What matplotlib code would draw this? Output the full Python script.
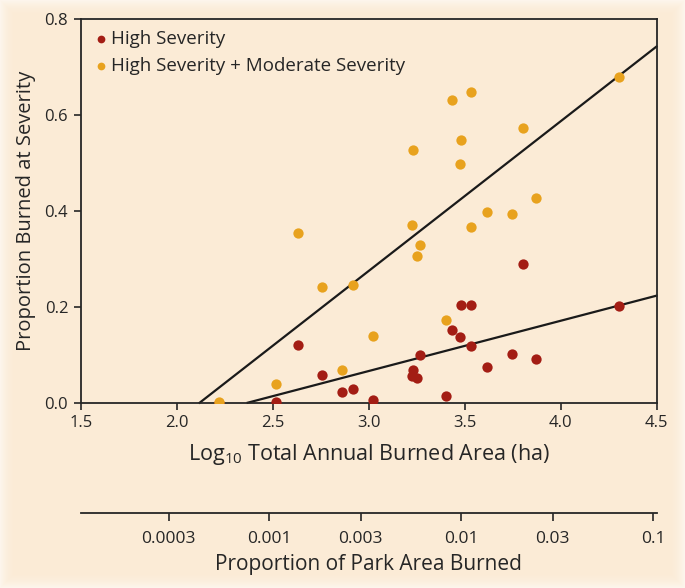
import numpy as np
import matplotlib
matplotlib.use("Agg")
import matplotlib.pyplot as plt

FONT = "Open Sans"
plt.rcParams['font.family'] = [FONT, 'DejaVu Sans']
plt.rcParams['mathtext.fontset'] = 'custom'
plt.rcParams['mathtext.rm'] = FONT
plt.rcParams['mathtext.it'] = FONT
plt.rcParams['mathtext.bf'] = FONT

# ---- data ----
log_area = [2.222, 2.517, 2.634, 2.758, 2.859, 2.920, 3.024, 3.224, 3.232,
            3.250, 3.269, 3.403, 3.436, 3.476, 3.481, 3.533, 3.531, 3.615,
            3.748, 3.805, 3.870, 4.307]
high_sev = [0.000, 0.001, 0.120, 0.058, 0.023, 0.029, 0.006, 0.056, 0.069,
            0.052, 0.100, 0.014, 0.152, 0.137, 0.203, 0.203, 0.118, 0.074,
            0.101, 0.290, 0.092, 0.201]
high_mod_sev = [0.002, 0.038, 0.354, 0.242, 0.068, 0.245, 0.138, 0.370, 0.526,
                0.305, 0.328, 0.172, 0.630, 0.498, 0.547, 0.647, 0.366, 0.398,
                0.393, 0.573, 0.426, 0.679]

fit_high_x = [2.37, 4.5]
fit_high_y = [0.0, 0.223]
fit_hm_x = [2.12, 4.5]
fit_hm_y = [0.0, 0.742]

park_area_ha = 303000
prop_ticks = [0.0003, 0.001, 0.003, 0.01, 0.03, 0.1]
prop_labels = ["0.0003", "0.001", "0.003", "0.01", "0.03", "0.1"]
x_ticks = [1.5, 2.0, 2.5, 3.0, 3.5, 4.0, 4.5]
y_ticks = [0.0, 0.2, 0.4, 0.6, 0.8]

BG = "#FBEBD6"
RED = "#A31D14"
ORANGE = "#E8A21E"
INK = "#262626"

fig = plt.figure(figsize=(6.85, 5.88), dpi=100, facecolor=BG)

# subtle lighter vignette at the figure edges
bgax = fig.add_axes([0, 0, 1, 1], zorder=-10)
bgax.set_axis_off()
H, W = 588, 685
yy, xx = np.mgrid[0:H, 0:W]
d = np.minimum.reduce([xx, W - 1 - xx, yy, H - 1 - yy]).astype(float)
alpha = np.clip(1 - d / 16.0, 0, 1) ** 2 * 0.55
img = np.ones((H, W, 4))
img[..., 3] = alpha
bgax.imshow(img, aspect='auto', extent=[0, 1, 0, 1], interpolation='bilinear')

ax = fig.add_axes([0.1178, 0.3151, 0.8406, 0.6531], facecolor=BG)

ax.plot(fit_high_x, fit_high_y, color="#1a1a1a", lw=1.6, zorder=2, clip_on=False)
ax.plot(fit_hm_x, fit_hm_y, color="#1a1a1a", lw=1.6, zorder=2, clip_on=False)
ax.scatter(log_area, high_sev, s=55, color=RED, lw=0, zorder=3, label="High Severity")
ax.scatter(log_area, high_mod_sev, s=55, color=ORANGE, lw=0, zorder=4,
           label="High Severity + Moderate Severity")

ax.set_xlim(1.5, 4.5)
ax.set_ylim(0, 0.8)
ax.set_xticks(x_ticks)
ax.set_xticklabels([f"{v:.1f}" for v in x_ticks])
ax.set_yticks(y_ticks)
ax.set_yticklabels([f"{v:.1f}" for v in y_ticks])
for s in ax.spines.values():
    s.set_color(INK)
    s.set_linewidth(1.3)
ax.tick_params(direction='out', length=5, width=1.2, color=INK, labelcolor=INK,
               labelsize=12, pad=4)
ax.set_xlabel(r"Log$_{10}$ Total Annual Burned Area (ha)", fontsize=15.5,
              color=INK, labelpad=8)
ax.set_ylabel("Proportion Burned at Severity", fontsize=14.5, color=INK, labelpad=6)

leg = ax.legend(loc="upper left", frameon=False, fontsize=13.5, handletextpad=0.0,
                markerscale=0.75, borderaxespad=0.2, labelspacing=0.5,
                labelcolor=INK, handlelength=1.0)

# secondary axis: proportion of park area
ax2 = fig.add_axes([0.1178, 0.128, 0.8406, 0.001], facecolor="none")
ax2.set_xlim(1.5, 4.5)
ax2.set_ylim(0, 1)
for k in ["left", "right", "top"]:
    ax2.spines[k].set_visible(False)
ax2.spines["bottom"].set_color(INK)
ax2.spines["bottom"].set_linewidth(1.3)
ax2.set_yticks([])
ax2.set_xticks([np.log10(p * park_area_ha) for p in prop_ticks])
ax2.set_xticklabels(prop_labels)
ax2.tick_params(direction='out', length=6, width=1.2, color=INK, labelcolor=INK,
                labelsize=12.5, pad=7)
ax2.set_xlabel("Proportion of Park Area Burned", fontsize=15, color=INK, labelpad=5)

fig.savefig("out.png", dpi=100, facecolor=BG)
